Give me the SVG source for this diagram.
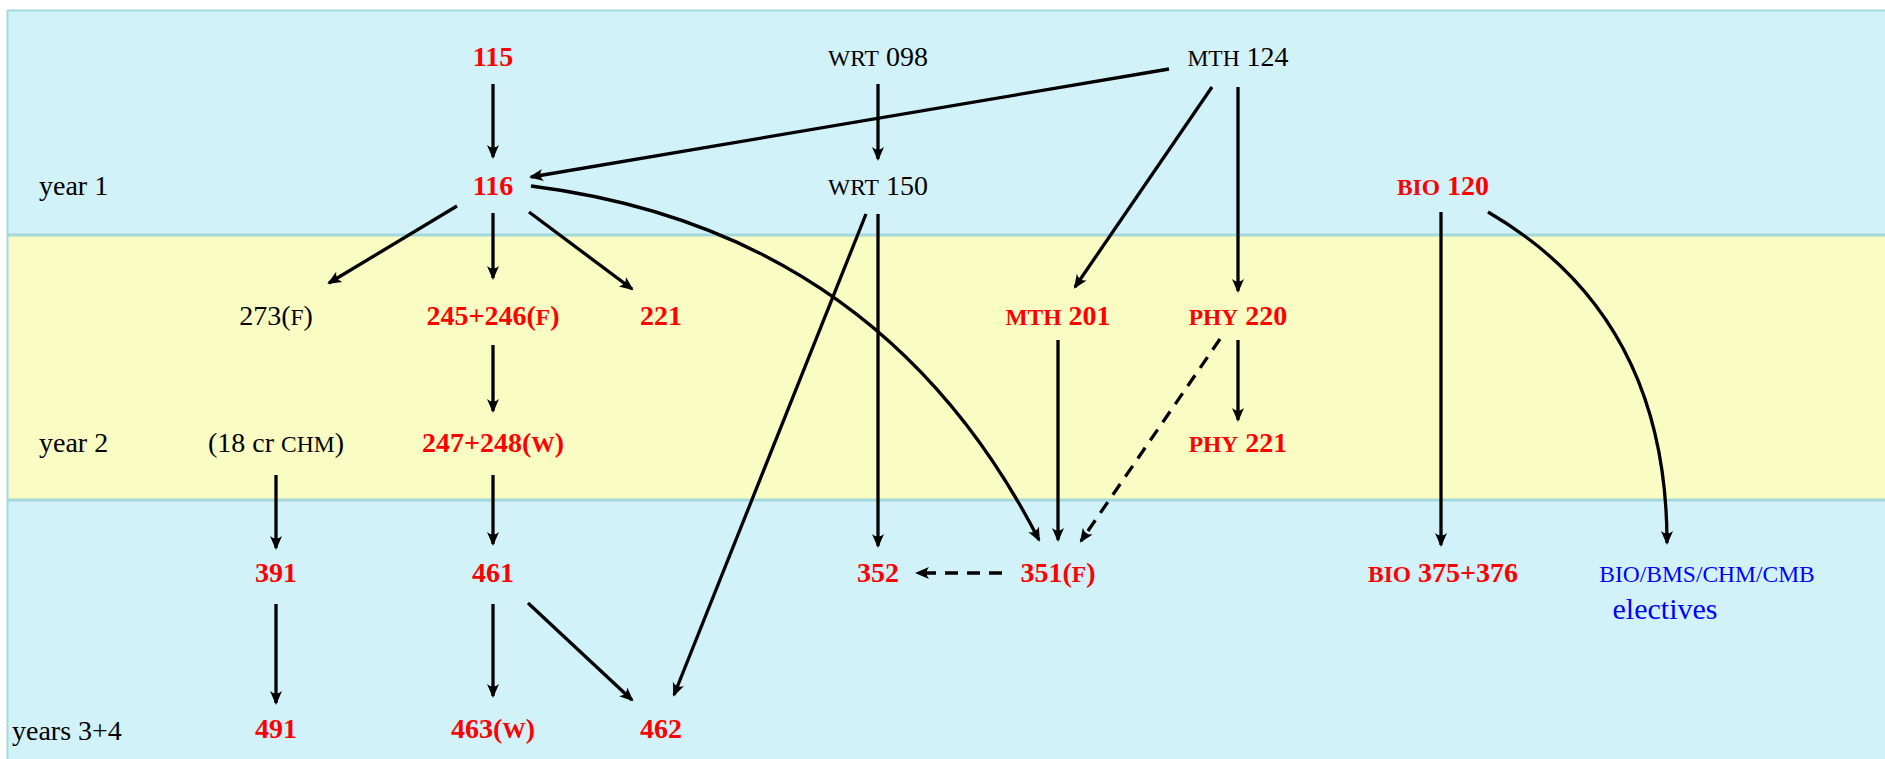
<svg xmlns="http://www.w3.org/2000/svg" width="1885" height="759" viewBox="0 0 1885 759">
<style>
  text { font-family: "Liberation Serif", "Times New Roman", serif; font-size: 28px; }
  .c { text-anchor: middle; }
  .r { fill: #ff0000; font-weight: bold; }
  .k { fill: #000000; }
  .b { fill: #0000ff; }
  .sc { font-size: 23.5px; }
  .edge { fill: none; stroke: #000; stroke-width: 3.3; marker-end: url(#arr); }
  .dash { stroke-dasharray: 13 9; }
  .band-b { fill: #d1f2f9; }
  .band-y { fill: #f9fdc3; }
  .sep { stroke: #a3d8dc; stroke-width: 3; fill: none; }
</style>
<defs>
  <marker id="arr" markerUnits="userSpaceOnUse" markerWidth="24" markerHeight="16" viewBox="-14 -8 18 16" refX="0" refY="0" orient="auto" overflow="visible">
    <path d="M2,0 L-12,-6 Q-7,0 -12,6 Z" fill="#000"/>
  </marker>
</defs>
<rect width="1885" height="759" fill="#ffffff"/>
<g id="bands">
  <rect class="band-b" x="7" y="10" width="1880" height="225"/>
  <rect class="band-y" x="7" y="235" width="1880" height="265"/>
  <rect class="band-b" x="7" y="500" width="1880" height="262"/>
  <path class="sep" d="M7,10.5 H1885 M7.5,10 V759" style="stroke-width:2"/>
  <path class="sep" d="M7,235 H1885 M7,500 H1885"/>
</g>
<g id="labels">
  <text class="k" x="39" y="195">year 1</text>
  <text class="k" x="39" y="452">year 2</text>
  <text class="k" x="12" y="740">years 3+4</text>
</g>
<g id="connectors">
  <path class="edge" d="M493,84 L493,157"/>
  <path class="edge" d="M878,84 L878,159"/>
  <path class="edge" d="M1169,69 L531,177"/>
  <path class="edge" d="M1212,87 L1075,287"/>
  <path class="edge" d="M1238,87 L1238,291"/>
  <path class="edge" d="M457,206 L329,283"/>
  <path class="edge" d="M493,213 L493,278"/>
  <path class="edge" d="M529,212 L632,289"/>
  <path class="edge" d="M531,186 Q880,230 1039,540"/>
  <path class="edge" d="M866,214 L674,695"/>
  <path class="edge" d="M878,214 L878,546"/>
  <path class="edge" d="M1058,340 L1058,540"/>
  <path class="edge dash" d="M1220,339 L1081,541"/>
  <path class="edge" d="M1238,340 L1238,420"/>
  <path class="edge" d="M493,345 L493,411"/>
  <path class="edge" d="M276,475 L276,548"/>
  <path class="edge" d="M493,475 L493,544"/>
  <path class="edge" d="M276,604 L276,703"/>
  <path class="edge" d="M493,604 L493,696"/>
  <path class="edge" d="M528,603 L632,700"/>
  <path class="edge dash" d="M1002,573 L917,573"/>
  <path class="edge" d="M1441,212 L1441,545"/>
  <path class="edge" d="M1488,212 Q1667,316 1667,543"/>
</g>
<g id="n115"><text class="c r" x="493" y="66">115</text></g>
<g id="wrt098"><text class="c k" x="878" y="66"><tspan class="sc">WRT</tspan> 098</text></g>
<g id="mth124"><text class="c k" x="1238" y="66"><tspan class="sc">MTH</tspan> 124</text></g>
<g id="n116"><text class="c r" x="493" y="195">116</text></g>
<g id="wrt150"><text class="c k" x="878" y="195"><tspan class="sc">WRT</tspan> 150</text></g>
<g id="bio120"><text class="c r" x="1443" y="195"><tspan class="sc">BIO</tspan> 120</text></g>
<g id="n273"><text class="c k" x="276" y="325">273(<tspan class="sc">F</tspan>)</text></g>
<g id="n245"><text class="c r" x="493" y="325">245+246(<tspan class="sc">F</tspan>)</text></g>
<g id="n221"><text class="c r" x="661" y="325">221</text></g>
<g id="mth201"><text class="c r" x="1058" y="325"><tspan class="sc">MTH</tspan> 201</text></g>
<g id="phy220"><text class="c r" x="1238" y="325"><tspan class="sc">PHY</tspan> 220</text></g>
<g id="chm18"><text class="c k" x="276" y="452">(18 cr <tspan class="sc">CHM</tspan>)</text></g>
<g id="n247"><text class="c r" x="493" y="452">247+248(<tspan class="sc">W</tspan>)</text></g>
<g id="phy221"><text class="c r" x="1238" y="452"><tspan class="sc">PHY</tspan> 221</text></g>
<g id="n391"><text class="c r" x="276" y="582">391</text></g>
<g id="n461"><text class="c r" x="493" y="582">461</text></g>
<g id="n352"><text class="c r" x="878" y="582">352</text></g>
<g id="n351"><text class="c r" x="1058" y="582">351(<tspan class="sc">F</tspan>)</text></g>
<g id="bio375"><text class="c r" x="1443" y="582"><tspan class="sc">BIO</tspan> 375+376</text></g>
<g id="electives">
  <text class="c b" x="1707" y="582"><tspan class="sc">BIO/BMS/CHM/CMB</tspan></text>
  <text class="c b" x="1665" y="619" style="font-size:30px">electives</text>
</g>
<g id="n491"><text class="c r" x="276" y="738">491</text></g>
<g id="n463"><text class="c r" x="493" y="738">463(<tspan class="sc">W</tspan>)</text></g>
<g id="n462"><text class="c r" x="661" y="738">462</text></g>
</svg>
